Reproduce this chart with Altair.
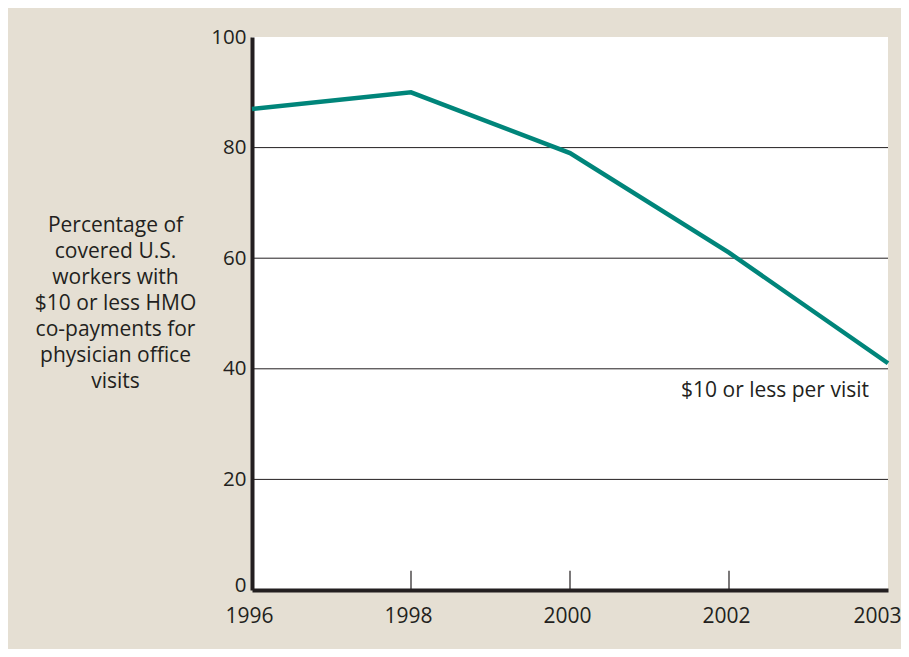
import altair as alt
import pandas as pd

years = ["1996", "1998", "2000", "2002", "2003"]
share = [87, 90, 79, 61, 41]
y_ticks = [0, 20, 40, 60, 80, 100]
grid_values = [20, 40, 60, 80]
tick_years = ["1998", "2000", "2002"]
title_lines = ["Percentage of", "covered U.S.", "workers with", "$10 or less HMO",
               "co-payments for", "physician office", "visits"]
note = "$10 or less per visit"

FONT = "Open Sans"
INK = "#231f20"
TEAL = "#00857a"
BG = "#e5dfd3"

df = pd.DataFrame({"year": years, "share": share})
grid_df = pd.DataFrame({"g": grid_values})
tick_df = pd.DataFrame({"year": tick_years, "y0": [0] * len(tick_years), "y1": [3.5] * len(tick_years)})
note_df = pd.DataFrame({"year": ["2003"], "share": [36.0], "t": [note]})

xscale = alt.Scale(type="point", domain=years, padding=0)
yscale = alt.Scale(domain=[0, 100], nice=False)

base_x = alt.X("year:O", scale=xscale,
               axis=alt.Axis(title=None, labelAngle=0, labelAlign="center", labelFont=FONT,
                             labelFontSize=21, labelColor=INK, ticks=False, domainColor=INK,
                             domainWidth=4, labelPadding=15, labelBaseline="top",
                             labelOverlap=False, labelFlush=False,
                             labelOffset=alt.ExprRef("datum.label == '2003' ? -11 : -3")))

grid = alt.Chart(grid_df).mark_rule(color=INK, strokeWidth=1).encode(
    y=alt.Y("g:Q", scale=yscale),
)

line = alt.Chart(df).mark_line(color=TEAL, strokeWidth=4.5, strokeJoin="miter").encode(
    x=base_x,
    y=alt.Y("share:Q", scale=yscale,
            axis=alt.Axis(values=y_ticks, grid=False, ticks=False, domainColor=INK,
                          domainWidth=4, labelFont=FONT, labelFontSize=20.5, labelColor=INK,
                          labelPadding=6, labelFlush=False,
                          labelOffset=alt.ExprRef("datum.value == 0 ? -5 : 0"),
                          title=title_lines, titleAngle=0, titleAlign="center",
                          titleBaseline="top", titleFont=FONT, titleFontSize=21,
                          titleFontWeight="normal", titleColor=INK, titleLineHeight=26,
                          titleX=-137, titleY=177)),
)

ticks = alt.Chart(tick_df).mark_rule(color=INK, strokeWidth=1.2).encode(
    x=alt.X("year:O", scale=xscale),
    y=alt.Y("y0:Q", scale=yscale),
    y2="y1:Q",
)

text = alt.Chart(note_df).mark_text(font=FONT, fontSize=21, color=INK, align="right",
                                    baseline="middle", dx=-19).encode(
    x=alt.X("year:O", scale=xscale),
    y=alt.Y("share:Q", scale=yscale),
    text="t:N",
)

chart = alt.layer(grid, ticks, line, text).properties(
    width=636, height=553,
    background=BG,
    autosize=alt.AutoSizeParams(type="none"),
    padding={"left": 244, "top": 29, "right": 13, "bottom": 59},
).configure_view(fill="white", stroke=None)

chart.save("out.html", embed_options={"renderer": "svg", "actions": False})
